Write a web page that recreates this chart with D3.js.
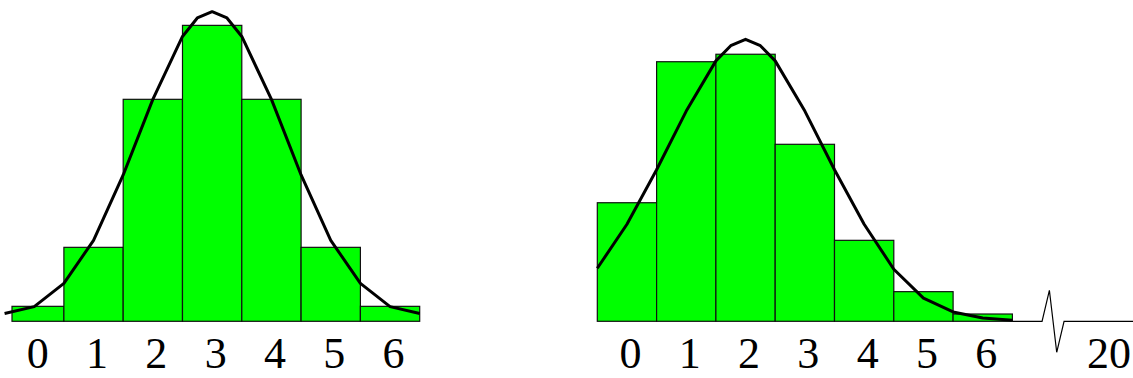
<!DOCTYPE html>
<html>
<head>
<meta charset="utf-8">
<script src="https://cdn.jsdelivr.net/npm/d3@7"></script>
<style>
  html, body { margin: 0; padding: 0; background: #ffffff; }
  svg { display: block; }
</style>
</head>
<body>
<svg id="chart" width="1133" height="378"></svg>
<script>
// ---------- data ----------
const categoriesL = [0, 1, 2, 3, 4, 5, 6];
const valuesL = [0.0158, 0.0781, 0.2344, 0.3125, 0.2344, 0.0781, 0.0158];
const tickLabelsL = ["0", "1", "2", "3", "4", "5", "6"];

const curveLX = [-0.5, 0, 0.5, 1, 1.5, 2, 2.5, 2.75, 3, 3.25, 3.5, 4, 4.5, 5, 5.5, 6, 6.5];
const curveLY = [0.0082, 0.0155, 0.040, 0.0855, 0.1545, 0.2343, 0.3008, 0.3203, 0.327, 0.3203, 0.3008, 0.2343, 0.1545, 0.0855, 0.040, 0.0155, 0.0082];

const categoriesR = [0, 1, 2, 3, 4, 5, 6];
const valuesR = [0.1252, 0.2741, 0.2820, 0.1869, 0.0855, 0.0313, 0.0077];
const tickValuesR = [0, 1, 2, 3, 4, 5, 6, 20];
const tickLabelsR = ["0", "1", "2", "3", "4", "5", "6", "20"];

const curveRX = [-0.5, 0, 0.5, 1, 1.5, 1.75, 2, 2.25, 2.5, 3, 3.5, 4, 4.5, 5, 5.5, 6, 6.5];
const curveRY = [0.056, 0.1025, 0.160, 0.222, 0.275, 0.291, 0.2978, 0.291, 0.275, 0.222, 0.160, 0.1025, 0.055, 0.0244, 0.0099, 0.0035, 0.0011];

// axis break on the right chart (domain values)
const breakStart = 7, breakEnd = 19.3, axisEnd = 20.5;

// ---------- scales ----------
const svg = d3.select("#chart");
const baseY = 321.3;
const y = d3.scaleLinear().domain([0, 0.34]).range([baseY, baseY - 0.34 * 947]);

const xL = d3.scaleLinear().domain([-0.375, 6.5]).range([12, 419.7]);
const unit = 59.3;
const xR = d3.scaleLinear()
  .domain([-0.5, breakStart, breakEnd, axisEnd])
  .range([597.3, 597.3 + (breakStart + 0.5) * unit, 597.3 + (breakStart + 0.5) * unit + 22,
          597.3 + (breakStart + 0.5) * unit + 22 + (axisEnd - breakEnd) * unit]);

const green = "#00ff00";
const serif = "'Liberation Serif', 'Times New Roman', Times, 'DejaVu Serif', serif";

function drawBars(g, x, cats, vals) {
  const d0 = x.domain()[0];
  g.selectAll("rect").data(cats).enter().append("rect")
    .attr("x", (k) => x(Math.max(k - 0.5, d0)))
    .attr("width", (k) => x(k + 0.5) - x(Math.max(k - 0.5, d0)))
    .attr("y", (k, i) => y(vals[i]))
    .attr("height", (k, i) => y(0) - y(vals[i]))
    .attr("fill", green)
    .attr("stroke", "#111")
    .attr("stroke-width", 1.2);
}

function drawCurve(g, x, xs, ys) {
  const line = d3.line().x((d) => x(d[0])).y((d) => y(d[1]));
  g.append("path")
    .datum(xs.map((v, i) => [v, ys[i]]))
    .attr("d", line)
    .attr("fill", "none")
    .attr("stroke", "#000")
    .attr("stroke-width", 3)
    .attr("stroke-linejoin", "round");
}

function drawLabels(g, x, vals, labels) {
  g.selectAll("text").data(vals).enter().append("text")
    .attr("x", (v) => x(v) + 3.5)
    .attr("y", 368)
    .attr("text-anchor", "middle")
    .attr("font-family", serif)
    .attr("font-size", 44)
    .attr("fill", "#000")
    .text((v, i) => labels[i]);
}

// ---------- left chart ----------
const gL = svg.append("g");
drawBars(gL.append("g"), xL, categoriesL, valuesL);
drawCurve(gL, xL, curveLX, curveLY);
drawLabels(gL.append("g"), xL, categoriesL, tickLabelsL);

// ---------- right chart ----------
const gR = svg.append("g");
drawBars(gR.append("g"), xR, categoriesR, valuesR);

// axis line with break
const bx0 = xR(breakStart), bx1 = xR(breakEnd);
const bw = (bx1 - bx0) / 3;
const axisPts = [
  [xR(6.5), y(0)], [bx0, y(0)],
  [bx0 + bw, y(0) - 31], [bx0 + 2 * bw, y(0) + 31],
  [bx1, y(0)], [xR(axisEnd), y(0)]
];
gR.append("path")
  .attr("d", d3.line()(axisPts))
  .attr("fill", "none")
  .attr("stroke", "#000")
  .attr("stroke-width", 1.2);

drawCurve(gR, xR, curveRX, curveRY);
drawLabels(gR.append("g"), xR, tickValuesR, tickLabelsR);
</script>
</body>
</html>
